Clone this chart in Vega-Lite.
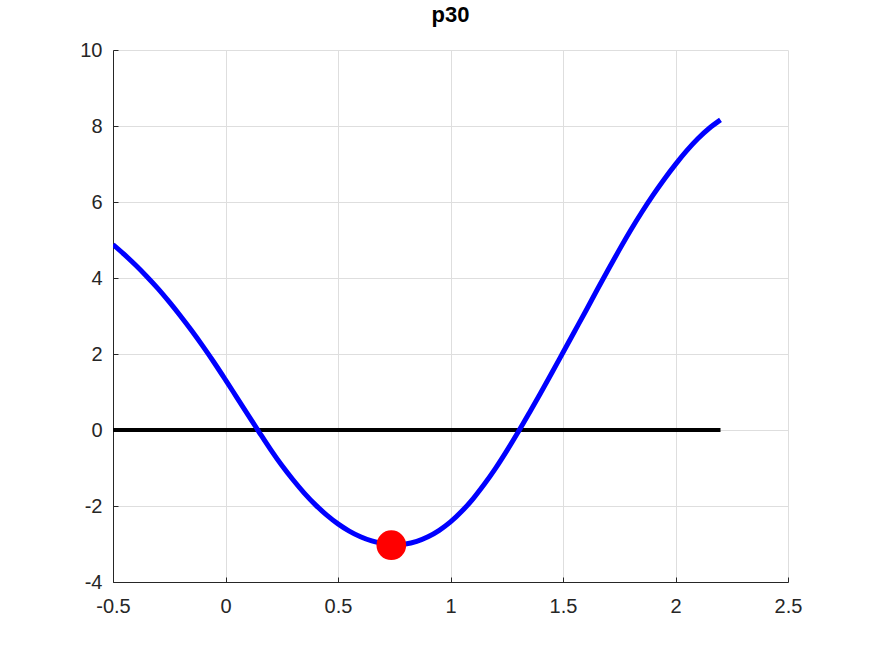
{
  "$schema": "https://vega.github.io/schema/vega-lite/v6.json",
  "autosize": "none",
  "width": 675,
  "height": 532,
  "padding": {"left": 113, "top": 50, "right": 84, "bottom": 72},
  "background": "white",
  "title": {"text": "p30", "font": "Liberation Sans", "fontSize": 22, "fontWeight": "bold", "color": "#000000", "anchor": "middle", "offset": 13},
  "config": {
    "view": {"stroke": null},
    "axis": {
      "labelFont": "Liberation Sans",
      "labelFontSize": 20,
      "labelColor": "#262626",
      "domainColor": "#262626",
      "domainWidth": 1,
      "tickColor": "#262626",
      "tickSize": -5,
      "gridColor": "#dedede",
      "gridWidth": 1,
      "title": null
    }
  },
  "datasets": {
    "curvepts": [
      {"x": -0.5, "y": 4.88},
      {"x": -0.45, "y": 4.62},
      {"x": -0.4, "y": 4.34},
      {"x": -0.35, "y": 4.04},
      {"x": -0.3, "y": 3.72},
      {"x": -0.25, "y": 3.37},
      {"x": -0.2, "y": 3.0},
      {"x": -0.15, "y": 2.61},
      {"x": -0.1, "y": 2.2},
      {"x": -0.05, "y": 1.77},
      {"x": 0.0, "y": 1.32},
      {"x": 0.05, "y": 0.86},
      {"x": 0.1, "y": 0.4},
      {"x": 0.15, "y": -0.06},
      {"x": 0.2, "y": -0.51},
      {"x": 0.25, "y": -0.93},
      {"x": 0.3, "y": -1.31},
      {"x": 0.35, "y": -1.66},
      {"x": 0.4, "y": -1.97},
      {"x": 0.45, "y": -2.24},
      {"x": 0.5, "y": -2.47},
      {"x": 0.55, "y": -2.66},
      {"x": 0.6, "y": -2.81},
      {"x": 0.65, "y": -2.92},
      {"x": 0.7, "y": -2.99},
      {"x": 0.75, "y": -3.02},
      {"x": 0.8, "y": -3.0},
      {"x": 0.85, "y": -2.93},
      {"x": 0.9, "y": -2.81},
      {"x": 0.95, "y": -2.64},
      {"x": 1.0, "y": -2.42},
      {"x": 1.05, "y": -2.14},
      {"x": 1.1, "y": -1.81},
      {"x": 1.15, "y": -1.43},
      {"x": 1.2, "y": -1.01},
      {"x": 1.25, "y": -0.55},
      {"x": 1.3, "y": -0.06},
      {"x": 1.35, "y": 0.45},
      {"x": 1.4, "y": 0.97},
      {"x": 1.45, "y": 1.5},
      {"x": 1.5, "y": 2.04},
      {"x": 1.55, "y": 2.58},
      {"x": 1.6, "y": 3.12},
      {"x": 1.65, "y": 3.67},
      {"x": 1.7, "y": 4.21},
      {"x": 1.75, "y": 4.74},
      {"x": 1.8, "y": 5.25},
      {"x": 1.85, "y": 5.73},
      {"x": 1.9, "y": 6.18},
      {"x": 1.95, "y": 6.6},
      {"x": 2.0, "y": 6.99},
      {"x": 2.05, "y": 7.35},
      {"x": 2.1, "y": 7.67},
      {"x": 2.15, "y": 7.94},
      {"x": 2.2, "y": 8.16}
    ],
    "zeroline": [
      {"x": -0.5, "y": 0},
      {"x": 2.2, "y": 0}
    ],
    "minpoint": [
      {"x": 0.737, "y": -3.03}
    ]
  },
  "layer": [
    {
      "data": {"name": "zeroline"},
      "mark": {"type": "line", "color": "#000000", "strokeWidth": 4, "clip": true},
      "encoding": {
        "x": {"field": "x", "type": "quantitative", "scale": {"domain": [-0.5, 2.5], "nice": false, "zero": false},
              "axis": {"values": [-0.5, 0, 0.5, 1, 1.5, 2, 2.5], "labelExpr": "replace(format(datum.value, ''), '\u2212', '-')", "labelPadding": 19, "labelFlush": false}},
        "y": {"field": "y", "type": "quantitative", "scale": {"domain": [-4, 10], "nice": false, "zero": false},
              "axis": {"values": [-4, -2, 0, 2, 4, 6, 8, 10], "labelExpr": "replace(format(datum.value, ''), '\u2212', '-')", "labelPadding": 16}}
      }
    },
    {
      "data": {"name": "curvepts"},
      "mark": {"type": "line", "color": "#0000ff", "strokeWidth": 5, "interpolate": "monotone", "clip": true},
      "encoding": {
        "x": {"field": "x", "type": "quantitative"},
        "y": {"field": "y", "type": "quantitative"}
      }
    },
    {
      "data": {"name": "minpoint"},
      "mark": {"type": "point", "filled": true, "color": "#ff0000", "opacity": 1, "size": 880, "shape": "circle"},
      "encoding": {
        "x": {"field": "x", "type": "quantitative"},
        "y": {"field": "y", "type": "quantitative"}
      }
    }
  ]
}
